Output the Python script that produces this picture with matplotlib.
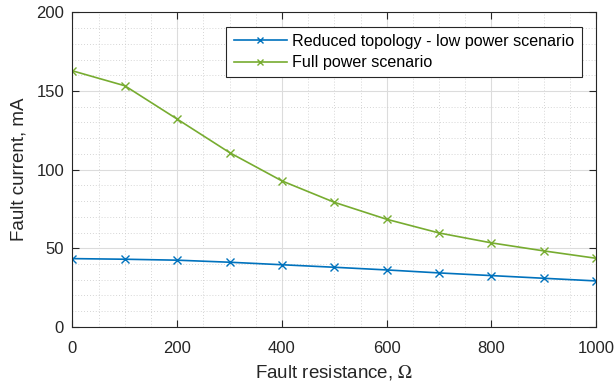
import matplotlib
matplotlib.use("Agg")
import matplotlib.pyplot as plt
from matplotlib.ticker import MultipleLocator

# ---- data ----
resistance = [0, 100, 200, 300, 400, 500, 600, 700, 800, 900, 1000]
reduced_low = [43.4, 43.0, 42.4, 41.1, 39.5, 37.9, 36.2, 34.3, 32.6, 30.9, 29.2]
full_power = [162.8, 153.3, 132.1, 110.8, 92.8, 79.2, 68.4, 59.7, 53.4, 48.3, 43.6]

labels = ["Reduced topology - low power scenario", "Full power scenario"]

plt.rcParams["font.family"] = ["Liberation Sans", "DejaVu Sans"]
plt.rcParams["mathtext.fontset"] = "stix"

fig = plt.figure(figsize=(6.14, 3.85), dpi=100)
ax = fig.add_axes([0.118, 0.151, 0.853, 0.817])

ax.plot(resistance, reduced_low, color="#0072BD", marker="x", markersize=6,
        linewidth=1.2, label=labels[0])
ax.plot(resistance, full_power, color="#77AC30", marker="x", markersize=6,
        linewidth=1.2, label=labels[1])

ax.set_xlim(0, 1000)
ax.set_ylim(0, 200)
ax.xaxis.set_major_locator(MultipleLocator(200))
ax.xaxis.set_minor_locator(MultipleLocator(50))
ax.yaxis.set_major_locator(MultipleLocator(50))
ax.yaxis.set_minor_locator(MultipleLocator(10))

ax.grid(True, which="major", color="#dcdcdc", linewidth=0.8, linestyle="-")
ax.grid(True, which="minor", color="#c8c8c8", linewidth=0.6, linestyle=(0, (1, 2.5)))
ax.set_axisbelow(True)

for s in ax.spines.values():
    s.set_color("#262626")
    s.set_linewidth(0.8)
ax.tick_params(which="major", direction="in", length=5, width=0.8, color="#262626",
               labelsize=12, labelcolor="#262626", top=True, right=True)
ax.tick_params(axis="y", which="major", pad=6)
ax.tick_params(axis="x", which="major", pad=10)
ax.tick_params(which="minor", length=0, top=True, right=True)

ax.set_xlabel("Fault resistance, $\\Omega$", fontsize=13.5, color="#262626", labelpad=5)
ax.set_ylabel("Fault current, mA", fontsize=13.5, color="#262626", labelpad=6)

leg = ax.legend(loc="upper right", fontsize=11.6, frameon=True, fancybox=False,
                edgecolor="#262626", framealpha=1, handlelength=3.3,
                handletextpad=0.35, borderaxespad=0.9, labelspacing=0.38,
                borderpad=0.45, markerscale=0.8)
leg.get_frame().set_linewidth(0.8)

fig.savefig("out.png", dpi=100)
